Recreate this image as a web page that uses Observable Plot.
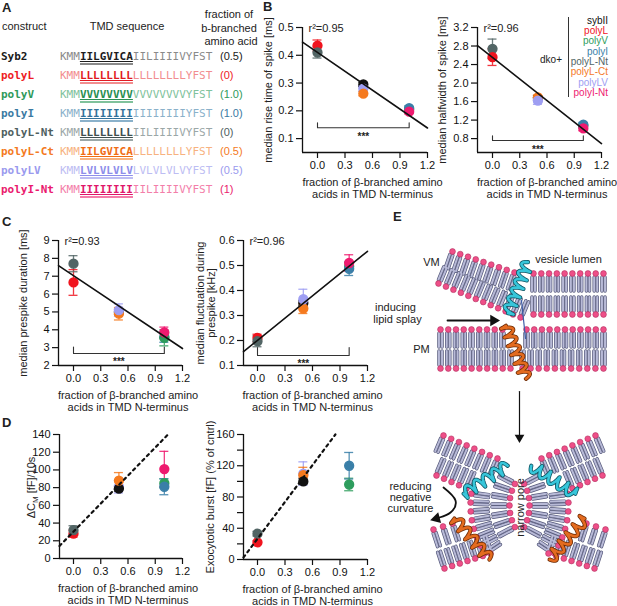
<!DOCTYPE html>
<html><head><meta charset="utf-8">
<script src="https://cdn.jsdelivr.net/npm/d3@7"></script>
<script src="https://cdn.jsdelivr.net/npm/@observablehq/plot@0.6"></script>
<style>
body{margin:0;background:#fff;}
#fig{position:relative;width:617px;height:606px;overflow:hidden;font-family:"Liberation Sans",Arial,sans-serif;color:#222;}
.abs{position:absolute;white-space:nowrap;line-height:1;}
</style></head><body><div id="fig"></div>
<script>
// ---------------- data ----------------
const constructs = ["Syb2","polyL","polyV","polyI","polyL-Nt","polyL-Ct","polyLV","polyI-Nt"];
const legendNames = ["sybII","polyL","polyV","polyI","polyL-Nt","polyL-Ct","polyLV","polyI-Nt"];
const seqHead = "KMM";
const seqCore = ["IILGVICA","LLLLLLLL","VVVVVVVV","IIIIIIII","LLLLLLLL","IILGVICA","LVLVLVLV","IIIIIIII"];
const seqTail = ["IILIIIIVYFST","LLLLLLLLYFST","VVVVVVVVYFST","IIIIIIIIYFST","IILIIIIVYFST","LLLLLLLLYFST","LVLVLVLVYFST","IILIIIIVYFST"];
const fractionText = ["(0.5)","(0)","(1.0)","(1.0)","(0)","(0.5)","(0.5)","(1)"];
const fraction = [0.5, 0, 1, 1, 0, 0.5, 0.5, 1];
const xTicks = [0, 0.3, 0.6, 0.9, 1.2];

const riseTime    = [0.295, 0.435, 0.205, 0.21, 0.41, 0.262, 0.28, 0.197];
const riseErr     = [0.008, 0.02, 0.008, 0.008, 0.02, 0.008, 0.01, 0.008];
const halfwidth   = [1.68, 2.56, 1.08, 1.1, 2.74, 1.69, 1.62, 1.02];
const halfErr     = [0.05, 0.18, 0.05, 0.05, 0.21, 0.05, 0.08, 0.05];
const prespike    = [5.0, 6.65, 3.55, 3.6, 7.7, 4.9, 5.1, 3.85];
const prespikeErr = [0.15, 0.72, 0.45, 0.3, 0.45, 0.35, 0.35, 0.3];
const fluct       = [0.35, 0.21, 0.497, 0.487, 0.197, 0.328, 0.365, 0.51];
const fluctErr    = [0.01, 0.015, 0.015, 0.027, 0.022, 0.02, 0.04, 0.033];
const deltaCm     = [79, 28, 85, 81, 32, 88, 81, 101];
const deltaCmErr  = [3, 4, 5, 9, 5, 9, 7, 20];
const burst       = [100, 22, 96, 120, 33, 108, 110, null];
const burstErr    = [4, 2, 8, 17, 3, 10, 15, null];

const xLabel = "fraction of β-branched amino\nacids in TMD N-terminus";

// ---------------- colours ----------------
const dotColors  = ["#111111","#f0141e","#2e9d5d","#3a7fa8","#526565","#f57a1f","#9e9ef2","#ee1a6f"];
const nameColors = ["#1a1a1a","#ee1c24","#2e9a5a","#3a7aa2","#4f5f5f","#f47a22","#9a9aee","#ea1a6e"];
const seqLight   = ["#8a8a8a","#f28d8f","#80c29c","#8ab1ca","#9ba7a7","#f7b27f","#bdbdf3","#f37ea9"];
const seqDark    = ["#1e1e1e","#e11a22","#2a8f52","#33729a","#3e4e4e","#f06d14","#8e8eea","#e0176a"];

const fig = document.getElementById("fig");
function htxt(text, x, yc, o = {}) {
  const size = o.size || 11;
  const d = document.createElement("div");
  d.className = "abs";
  d.style.fontSize = size + "px";
  d.style.top = (yc - 0.52 * size) + "px";
  if (o.anchor === "middle") { d.style.left = x + "px"; d.style.transform = "translateX(-50%)"; d.style.textAlign = "center"; }
  else if (o.anchor === "end") { d.style.right = (617 - x) + "px"; d.style.textAlign = "right"; }
  else d.style.left = x + "px";
  if (o.color) d.style.color = o.color;
  if (o.weight) d.style.fontWeight = o.weight;
  if (o.family) d.style.fontFamily = o.family;
  if (o.html) d.innerHTML = text; else d.textContent = text;
  fig.appendChild(d);
  return d;
}

// ---------------- panel letters ----------------
htxt("A", 2, 8, {size: 13, weight: "bold"});
htxt("B", 263, 7, {size: 13, weight: "bold"});
htxt("C", 2, 222, {size: 13, weight: "bold"});
htxt("D", 2, 422.5, {size: 13, weight: "bold"});
htxt("E", 393, 217, {size: 13, weight: "bold"});

// ---------------- panel A ----------------
htxt("construct", 2, 27);
htxt("TMD sequence", 127, 27, {anchor: "middle"});
htxt("fraction of", 229, 15, {anchor: "middle"});
htxt("b-branched", 229, 28.5, {anchor: "middle"});
htxt("amino acid", 231, 42, {anchor: "middle"});
constructs.forEach((c, i) => {
  const y = 57 + 19 * i;
  htxt(c, 1, y, {family: "'DejaVu Sans Mono', monospace", weight: "bold", color: nameColors[i]});
  htxt(`<span style="color:${seqLight[i]}">${seqHead}</span><span style="color:${seqDark[i]};font-weight:bold;text-decoration:underline;text-underline-offset:1px;border-bottom:2px solid ${seqLight[i]}">${seqCore[i]}</span><span style="color:${seqLight[i]}">${seqTail[i]}</span>`,
    60, y, {family: "'DejaVu Sans Mono', monospace", html: true});
  htxt(fractionText[i], 220, y, {color: nameColors[i]});
});

// ---------------- legend (panel B) ----------------
legendNames.forEach((n, i) => htxt(n, 608, 21 + 10.3 * i, {anchor: "end", size: 10, color: dotColors[i]}));
htxt("dko+", 562, 60, {anchor: "end", size: 10});
{
  const l = document.createElement("div");
  l.style.cssText = "position:absolute;left:567.5px;top:17px;width:1px;height:80px;background:#333";
  fig.appendChild(l);
}

// ---------------- scatter charts ----------------
function scatter(cfg) {
  const ppu = (cfg.x12 - cfg.zero) / 1.2;
  const xmin = -(cfg.zero - cfg.x0) / ppu;
  const [y0, y1] = cfg.yDomain;
  const mL = 60, mR = 14, mT = 16, mB = 54;
  const width = cfg.x12 - cfg.x0 + mL + mR;
  const height = cfg.yBot - cfg.yTop + mT + mB;
  const pts = cfg.order.filter(i => cfg.values[i] != null)
    .map(i => ({x: fraction[i], y: cfg.values[i], e: cfg.errs[i], c: dotColors[i]}));
  const cap = 4.5 / ppu;
  const fmt = cfg.yFmt ? d3.format(cfg.yFmt) : d3.format(".1f");
  const marks = [
    Plot.ruleX([xmin], {y1: y0, y2: y1, stroke: "#111", strokeWidth: 1.3}),
    Plot.ruleY([y0], {x1: xmin, x2: 1.2, stroke: "#111", strokeWidth: 1.3}),
    Plot.axisX(xTicks, {tickSize: 6, tickPadding: 3, tickFormat: d3.format(".1f"), label: null, color: "#111", fontSize: 11, strokeWidth: 1.2}),
    Plot.axisY(cfg.yTicks, {tickSize: 6, tickPadding: 3, tickFormat: fmt, label: null, color: "#111", fontSize: 11, strokeWidth: 1.2})
  ];
  if (cfg.yMinor) marks.push(Plot.axisY(cfg.yMinor, {tickSize: 6, tickFormat: () => "", label: null, color: "#111", strokeWidth: 1.2}));
  // error bars
  marks.push(Plot.ruleX(pts, {x: "x", y1: d => d.y - d.e, y2: d => d.y + d.e, stroke: "c", strokeWidth: 1.3, strokeOpacity: 0.85}));
  marks.push(Plot.ruleY(pts, {y: d => d.y + d.e, x1: d => d.x - cap, x2: d => d.x + cap, stroke: "c", strokeWidth: 1.3, strokeOpacity: 0.85}));
  marks.push(Plot.ruleY(pts, {y: d => d.y - d.e, x1: d => d.x - cap, x2: d => d.x + cap, stroke: "c", strokeWidth: 1.3, strokeOpacity: 0.85}));
  marks.push(Plot.dot(pts, {x: "x", y: "y", fill: "c", stroke: "c", r: 4.4}));
  if (cfg.fit) {
    const {a, b} = cfg.fit;
    marks.push(Plot.line([xmin, 1.2].map(x => ({x, y: a + b * x})), {x: "x", y: "y", stroke: "#111", strokeWidth: 1.6}));
  }
  if (cfg.dashed) {
    const {a, b} = cfg.dashed;
    const xe = Math.min(1.2, (y1 - a) / b);
    marks.push(Plot.line([xmin, xe].map(x => ({x, y: a + b * x})), {x: "x", y: "y", stroke: "#111", strokeWidth: 2.2, strokeDasharray: "2.6,4"}));
  }
  if (cfg.bracket) {
    const {y, end, star} = cfg.bracket;
    marks.push(Plot.line([{x: 0, y: end}, {x: 0, y}, {x: 1, y}, {x: 1, y: end}], {x: "x", y: "y", stroke: "#333", strokeWidth: 1.1}));
    marks.push(Plot.text(["***"], {x: () => 0.5, y: () => star, dy: 3, fontSize: 10, fontWeight: "bold", fill: "#222"}));
  }
  if (cfg.r2) marks.push(Plot.text([cfg.r2], {frameAnchor: "top-left", dx: 6, dy: 1, lineAnchor: "middle", textAnchor: "start", fontSize: 11, fill: "#222"}));
  marks.push(Plot.text([xLabel], {x: () => 0.6, frameAnchor: "bottom", dy: 36, lineAnchor: "middle", textAnchor: "middle", lineHeight: 1.1, fontSize: 11, fill: "#222"}));
  marks.push(Plot.text([cfg.ylabel], {frameAnchor: "left", dx: cfg.ylabelDx, dy: cfg.ylabelDy || 0, rotate: -90, textAnchor: "middle", lineAnchor: "middle", lineHeight: 1.0, fontSize: 11, fill: "#222"}));
  const svg = Plot.plot({
    width, height, marginLeft: mL, marginRight: mR, marginTop: mT, marginBottom: mB,
    style: {background: "transparent", overflow: "visible", fontFamily: "'Liberation Sans', Arial, sans-serif", fontSize: "11px", color: "#111"},
    x: {domain: [xmin, 1.2]},
    y: {domain: cfg.yDomain},
    color: {type: "identity"},
    marks
  });
  svg.style.position = "absolute";
  svg.style.left = (cfg.x0 - mL) + "px";
  svg.style.top = (cfg.yTop - mT) + "px";
  svg.querySelectorAll("text").forEach(t => {
    if (t.textContent === "ΔCM [fF]/10s") t.innerHTML = 'ΔC<tspan dy="2.5" font-size="8">M</tspan><tspan dy="-2.5"> [fF]/10s</tspan>';
  });
  fig.appendChild(svg);
}

scatter({x0: 302, zero: 317, x12: 427, yTop: 27, yBot: 152, yDomain: [0.05, 0.5], yTicks: [0.1, 0.2, 0.3, 0.4, 0.5],
  values: riseTime, errs: riseErr, order: [0, 6, 5, 1, 4, 2, 3, 7], fit: {a: 0.41, b: -0.2265},
  bracket: {y: 0.139, end: 0.157, star: 0.118}, r2: "r²=0.95", ylabel: "median rise time of spike [ms]", ylabelDx: -34});
scatter({x0: 477, zero: 492, x12: 601, yTop: 27, yBot: 152, yDomain: [0.5, 3.2], yTicks: [0.8, 1.2, 1.6, 2.0, 2.4, 2.8, 3.2],
  values: halfwidth, errs: halfErr, order: [0, 4, 1, 5, 6, 2, 3, 7], fit: {a: 2.552, b: -1.55},
  bracket: {y: 0.76, end: 0.86, star: 0.63}, r2: "r²=0.96", ylabel: "median halfwidth of spike [ms]", ylabelDx: -35});
scatter({x0: 58, zero: 73, x12: 182, yTop: 240, yBot: 365, yDomain: [2, 9], yTicks: [2, 3, 4, 5, 6, 7, 8, 9], yFmt: "d",
  values: prespike, errs: prespikeErr, order: [0, 5, 6, 1, 4, 3, 2, 7], fit: {a: 7.03, b: -3.40},
  bracket: {y: 2.67, end: 3.04, star: 2.39}, r2: "r²=0.93", ylabel: "median prespike duration [ms]", ylabelDx: -35});
scatter({x0: 243, zero: 257, x12: 367, yTop: 240, yBot: 365, yDomain: [0.1, 0.6], yTicks: [0.1, 0.2, 0.3, 0.4, 0.5, 0.6],
  values: fluct, errs: fluctErr, order: [0, 1, 4, 5, 6, 2, 3, 7], fit: {a: 0.2005, b: 0.297},
  bracket: {y: 0.14, end: 0.172, star: 0.12}, r2: "r²=0.96", ylabel: "median fluctuation during\nprespike [kHz]", ylabelDx: -37.5});
scatter({x0: 59, zero: 73, x12: 182, yTop: 434, yBot: 558, yDomain: [0, 140], yTicks: [0, 20, 40, 60, 80, 100, 120, 140], yFmt: "d",
  values: deltaCm, errs: deltaCmErr, order: [6, 0, 5, 1, 4, 7, 2, 3], dashed: {a: 30.4, b: 105.4},
  ylabel: "ΔCM [fF]/10s", ylabelDx: -28, ylabelDy: -9});
scatter({x0: 243, zero: 257, x12: 367, yTop: 434, yBot: 559, yDomain: [0, 160], yTicks: [0, 40, 80, 120, 160], yMinor: [20, 60, 100, 140], yFmt: "d",
  values: burst, errs: burstErr, order: [6, 5, 0, 1, 4, 2, 3, 7], dashed: {a: 26.6, b: 157},
  ylabel: "Exocytotic burst [fF] (% of cntrl)", ylabelDx: -33});

// ---------------- panel E (schematic) ----------------
// leaflets: [x1, y1, x2, y2, count, tailDirX, tailDirY]
const leafletsTop = [
  [440, 329, 502, 329, 9, 0, 1], [526, 329, 603, 329, 11, 0, 1],
  [440, 368, 510, 368, 10, 0, -1], [522, 368, 603, 368, 11, 0, -1],
  [533, 273, 603, 273, 10, 0, 1], [533, 314, 603, 314, 10, 0, -1],
  [452, 251, 514, 272, 9, -0.326, 0.946], [438, 283, 520, 317, 12, 0.383, -0.924]
];
const leafletsBottomLeft = [
  [443, 435, 497, 458, 8, -0.39, 0.92], [436, 475, 466, 488, 5, 0.39, -0.92],
  [433, 529, 452, 523, 3, 0.31, 0.95], [444, 568, 490, 553, 7, -0.31, -0.95]
];
// arcs: [cx, cy, r, angle1, angle2, count, tailsInward(1) / outward(-1)]
const arcsBottomLeft = [[555, 505, 46, 152, 208, 7, -1], [555, 505, 85, 146, 188, 8, 1]];
// helices: [ax, ay, bx, by, turns, colour, outline]
const helicesTop = [[507, 314, 527, 263, 6, "#37c6da", "#0f5563"], [505, 324, 525, 377, 6, "#e36b1f", "#6e2c06"]];
const helicesBottomLeft = [[462, 494, 506, 466, 5, "#37c6da", "#0f5563"], [453, 517, 488, 558, 5, "#e36b1f", "#6e2c06"]];
const mirrorX = 1038;

const heads = [], tails = [];
function addLipid(hx, hy, ux, uy, len = 14) {
  const n = Math.hypot(ux, uy); ux /= n; uy /= n;
  const px = -uy, py = ux;
  heads.push({x: hx, y: hy});
  for (const s of [-1.55, 1.55]) tails.push({x1: hx + ux * 3.6 + px * s, y1: hy + uy * 3.6 + py * s, x2: hx + ux * (3.6 + len) + px * s, y2: hy + uy * (3.6 + len) + py * s});
}
function addLeaflet([x1, y1, x2, y2, n, dx, dy], mir = false) {
  for (let i = 0; i < n; i++) {
    const t = n === 1 ? 0 : i / (n - 1);
    let hx = x1 + (x2 - x1) * t, hy = y1 + (y2 - y1) * t, ux = dx;
    if (mir) { hx = mirrorX - hx; ux = -dx; }
    addLipid(hx, hy, ux, dy);
  }
}
function addArc([cx, cy, r, a1, a2, n, inward], mir = false) {
  for (let i = 0; i < n; i++) {
    const a = (a1 + (a2 - a1) * i / (n - 1)) * Math.PI / 180;
    let hx = cx + r * Math.cos(a), hy = cy + r * Math.sin(a);
    let ux = -inward * Math.cos(a), uy = -inward * Math.sin(a);
    if (mir) { hx = mirrorX - hx; ux = -ux; }
    addLipid(hx, hy, ux, uy);
  }
}
leafletsTop.forEach(l => addLeaflet(l));
leafletsBottomLeft.forEach(l => { addLeaflet(l); addLeaflet(l, true); });
arcsBottomLeft.forEach(a => { addArc(a); addArc(a, true); });

const helixPts = [];
let hid = 0;
function addHelix([ax, ay, bx, by, turns, col, dark], mir = false) {
  if (mir) { ax = mirrorX - ax; bx = mirrorX - bx; }
  const L = Math.hypot(bx - ax, by - ay), ux = (bx - ax) / L, uy = (by - ay) / L, nx = -uy, ny = ux;
  const N = turns * 24, id = hid++;
  for (let k = 0; k <= N; k++) {
    const t = k / N, th = 2 * Math.PI * turns * t;
    const along = L * t + 1.4 * Math.cos(th), side = 5.5 * Math.sin(th);
    helixPts.push({id, x: ax + ux * along + nx * side, y: ay + uy * along + ny * side, c: col, d: dark});
  }
}
helicesTop.forEach(h => addHelix(h));
helicesBottomLeft.forEach(h => { addHelix(h); addHelix(h, true); });

const eTexts = [
  {t: "VM", x: 431, y: 262, a: "middle"}, {t: "vesicle lumen", x: 568, y: 259, a: "middle"},
  {t: "inducing", x: 395, y: 307, a: "start"}, {t: "lipid splay", x: 397, y: 319, a: "start"},
  {t: "PM", x: 421, y: 349, a: "middle"},
  {t: "reducing", x: 410, y: 486, a: "middle"}, {t: "negative", x: 410, y: 497, a: "middle"}, {t: "curvature", x: 410, y: 508, a: "middle"}
];

const eSvg = Plot.plot({
  width: 230, height: 395, marginLeft: 0, marginRight: 0, marginTop: 0, marginBottom: 0,
  style: {background: "transparent", overflow: "visible", fontFamily: "'Liberation Sans', Arial, sans-serif", fontSize: "11px"},
  x: {domain: [387, 617], axis: null},
  y: {domain: [607, 212], axis: null},
  color: {type: "identity"},
  marks: [
    Plot.link(tails, {x1: "x1", y1: "y1", x2: "x2", y2: "y2", stroke: "#55587a", strokeWidth: 3.4, strokeLinecap: "round"}),
    Plot.link(tails, {x1: "x1", y1: "y1", x2: "x2", y2: "y2", stroke: "#b8bad7", strokeWidth: 2.0, strokeLinecap: "round"}),
    Plot.dot(heads, {x: "x", y: "y", r: 2.9, fill: "#ee4f88", stroke: "#b0305f", strokeWidth: 0.6}),
    Plot.line([{x: 521, y: 300}, {x: 525, y: 338}], {x: "x", y: "y", stroke: "#3d5da8", strokeWidth: 1.2}),
    Plot.line(helixPts, {x: "x", y: "y", z: "id", stroke: "d", strokeWidth: 4.2, strokeLinejoin: "round"}),
    Plot.line(helixPts, {x: "x", y: "y", z: "id", stroke: "c", strokeWidth: 2.6, strokeLinejoin: "round"}),
    // arrows
    Plot.line([{x: 447, y: 320}, {x: 490, y: 320}], {x: "x", y: "y", stroke: "#111", strokeWidth: 1.8}),
    Plot.dot([{x: 493, y: 320}], {x: "x", y: "y", symbol: "triangle", r: 4.2, fill: "#111", rotate: 90}),
    Plot.line([{x: 519, y: 391}, {x: 519, y: 434}], {x: "x", y: "y", stroke: "#111", strokeWidth: 1.2}),
    Plot.dot([{x: 519, y: 437}], {x: "x", y: "y", symbol: "triangle", r: 3.6, fill: "#111", rotate: 180}),
    Plot.line([{x: 443, y: 487}, {x: 455, y: 500}, {x: 450, y: 512}, {x: 439, y: 517}], {x: "x", y: "y", curve: "natural", stroke: "#111", strokeWidth: 1.8}),
    Plot.dot([{x: 436, y: 518}], {x: "x", y: "y", symbol: "triangle", r: 4.2, fill: "#111", rotate: 255}),
    // texts
    Plot.text(eTexts, {x: "x", y: "y", text: "t", textAnchor: "a", fontSize: 11, fill: "#222"}),
    Plot.text(["narrow pore"], {x: () => 520, y: () => 507, rotate: -90, fontSize: 11, fill: "#222"})
  ]
});
eSvg.style.position = "absolute";
eSvg.style.left = "387px";
eSvg.style.top = "212px";
fig.appendChild(eSvg);
</script></body></html>
